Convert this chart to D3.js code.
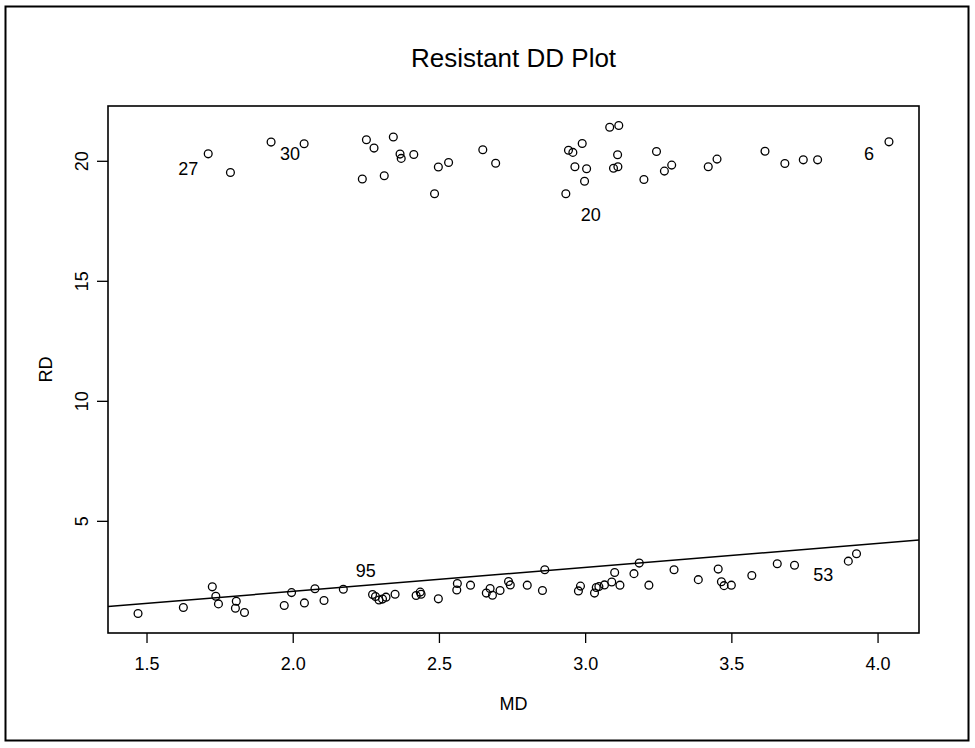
<!DOCTYPE html>
<html>
<head>
  <meta charset="utf-8">
  <title>Resistant DD Plot</title>
  <script src="https://d3js.org/d3.v7.min.js"></script>
  <style>
    body { margin: 0; background: #fff; }
    svg { display: block; font-family: "Liberation Sans", Arial, Helvetica, sans-serif; }
    .tick text { font-size: 18px; fill: #000; }
    .tick line { stroke: #000; stroke-width: 1.3px; }
  </style>
</head>
<body>
<div id="chart"></div>
<script>
// Mahalanobis (MD) and robust (RD) distances
const md = [
  1.711, 1.787, 1.926, 2.039, 2.252, 2.278, 2.344, 2.367, 2.371, 2.414,
  2.238, 2.313, 2.485, 2.498, 2.533, 2.650, 2.694, 2.934, 2.943, 2.958,
  2.990, 2.965, 3.005, 2.998, 3.084, 3.115, 3.111, 3.097, 3.112, 3.201,
  3.244, 3.271, 3.296, 3.421, 3.451, 3.615, 3.683, 3.746, 3.795, 4.039,
  1.471, 1.626, 1.725, 1.737, 1.746, 1.807, 1.804, 1.835, 1.971, 1.996,
  2.040, 2.076, 2.107, 2.173, 2.273, 2.283, 2.295, 2.307, 2.319, 2.350,
  2.422, 2.436, 2.439, 2.498, 2.563, 2.561, 2.608, 2.662, 2.675, 2.683,
  2.709, 2.738, 2.744, 2.802, 2.854, 2.862, 2.977, 2.984, 3.032, 3.038,
  3.047, 3.066, 3.091, 3.101, 3.119, 3.167, 3.185, 3.218, 3.304, 3.387,
  3.455, 3.466, 3.475, 3.500, 3.570, 3.657, 3.716, 3.900, 3.928
];
const rd = [
  20.29, 19.51, 20.78, 20.71, 20.88, 20.53, 20.99, 20.28, 20.10, 20.26,
  19.24, 19.38, 18.63, 19.74, 19.93, 20.46, 19.90, 18.63, 20.44, 20.35,
  20.72, 19.75, 19.67, 19.15, 21.40, 21.47, 20.25, 19.69, 19.75, 19.22,
  20.39, 19.57, 19.82, 19.75, 20.07, 20.40, 19.89, 20.04, 20.04, 20.79,
  1.14, 1.39, 2.25, 1.86, 1.54, 1.65, 1.36, 1.18, 1.47, 2.01,
  1.58, 2.17, 1.68, 2.15, 1.93, 1.85, 1.70, 1.74, 1.82, 1.94,
  1.89, 2.03, 1.94, 1.75, 2.39, 2.12, 2.32, 1.99, 2.18, 1.90,
  2.10, 2.47, 2.33, 2.32, 2.10, 2.96, 2.08, 2.28, 1.99, 2.22,
  2.26, 2.33, 2.45, 2.85, 2.32, 2.80, 3.24, 2.32, 2.96, 2.55,
  2.99, 2.46, 2.30, 2.32, 2.72, 3.21, 3.15, 3.32, 3.63
];

// case labels placed with text(x, y, label)
const labelText = ["27", "30", "6", "20", "95", "53"];
const labelMD = [1.643, 1.991, 3.971, 3.019, 2.250, 3.814];
const labelRD = [19.69, 20.28, 20.29, 17.74, 2.92, 2.75];

// fitted line RD = a + b * MD
const lineIntercept = 0.06;
const lineSlope = 1.0;

const xTicks = [1.5, 2.0, 2.5, 3.0, 3.5, 4.0];
const yTicks = [5, 10, 15, 20];

const width = 975, height = 748;
const plot = { left: 108, right: 919, top: 106, bottom: 633 };

// R style axis range: data range padded by 4% on each side
function rRange(v) {
  const [lo, hi] = d3.extent(v);
  const pad = (hi - lo) * 0.04;
  return [lo - pad, hi + pad];
}

const x = d3.scaleLinear().domain(rRange(md)).range([plot.left, plot.right]);
const y = d3.scaleLinear().domain(rRange(rd)).range([plot.bottom, plot.top]);

const svg = d3.select("#chart").append("svg")
  .attr("width", width)
  .attr("height", height);

// outer figure frame
svg.append("rect")
  .attr("x", 5.5).attr("y", 6.5)
  .attr("width", 963).attr("height", 734)
  .attr("fill", "none").attr("stroke", "#000").attr("stroke-width", 2);

// title
svg.append("text")
  .attr("x", (plot.left + plot.right) / 2)
  .attr("y", 67)
  .attr("text-anchor", "middle")
  .attr("font-size", 26)
  .text("Resistant DD Plot");

// axes
const xAxis = svg.append("g")
  .attr("transform", `translate(0,${plot.bottom})`)
  .call(d3.axisBottom(x).tickValues(xTicks).tickSize(10).tickPadding(0)
    .tickFormat(d3.format(".1f")));
xAxis.select(".domain").remove();
xAxis.selectAll(".tick text").attr("dy", null).attr("y", 37);

const yAxis = svg.append("g")
  .attr("transform", `translate(${plot.left},0)`)
  .call(d3.axisLeft(y).tickValues(yTicks).tickSize(11).tickFormat(d3.format("d")));
yAxis.select(".domain").remove();
yAxis.selectAll(".tick text")
  .attr("x", null).attr("dy", null)
  .attr("text-anchor", "middle")
  .attr("transform", "translate(-20,0) rotate(-90)");

svg.selectAll(".tick text").attr("font-family", null).attr("font-size", null);

// axis titles
svg.append("text")
  .attr("x", (plot.left + plot.right) / 2)
  .attr("y", 710)
  .attr("text-anchor", "middle")
  .attr("font-size", 18)
  .text("MD");

svg.append("text")
  .attr("transform", `translate(52,${(plot.top + plot.bottom) / 2}) rotate(-90)`)
  .attr("text-anchor", "middle")
  .attr("font-size", 18)
  .text("RD");

// clip to plot region for the line
svg.append("clipPath").attr("id", "plotclip")
  .append("rect")
  .attr("x", plot.left).attr("y", plot.top)
  .attr("width", plot.right - plot.left).attr("height", plot.bottom - plot.top);

const [x0, x1] = x.domain();
svg.append("line")
  .attr("clip-path", "url(#plotclip)")
  .attr("x1", x(x0)).attr("y1", y(lineIntercept + lineSlope * x0))
  .attr("x2", x(x1)).attr("y2", y(lineIntercept + lineSlope * x1))
  .attr("stroke", "#000").attr("stroke-width", 1.5);

// points
svg.append("g")
  .selectAll("circle")
  .data(md.map((d, i) => [d, rd[i]]))
  .join("circle")
    .attr("cx", d => x(d[0]))
    .attr("cy", d => y(d[1]))
    .attr("r", 3.9)
    .attr("fill", "none")
    .attr("stroke", "#000")
    .attr("stroke-width", 1.3);

// case labels
svg.append("g")
  .selectAll("text")
  .data(labelText)
  .join("text")
    .attr("x", (d, i) => x(labelMD[i]))
    .attr("y", (d, i) => y(labelRD[i]))
    .attr("dy", "0.35em")
    .attr("text-anchor", "middle")
    .attr("font-size", 18)
    .text(d => d);

// plot box
svg.append("rect")
  .attr("x", plot.left).attr("y", plot.top)
  .attr("width", plot.right - plot.left).attr("height", plot.bottom - plot.top)
  .attr("fill", "none").attr("stroke", "#000").attr("stroke-width", 1.6);
</script>
</body>
</html>
